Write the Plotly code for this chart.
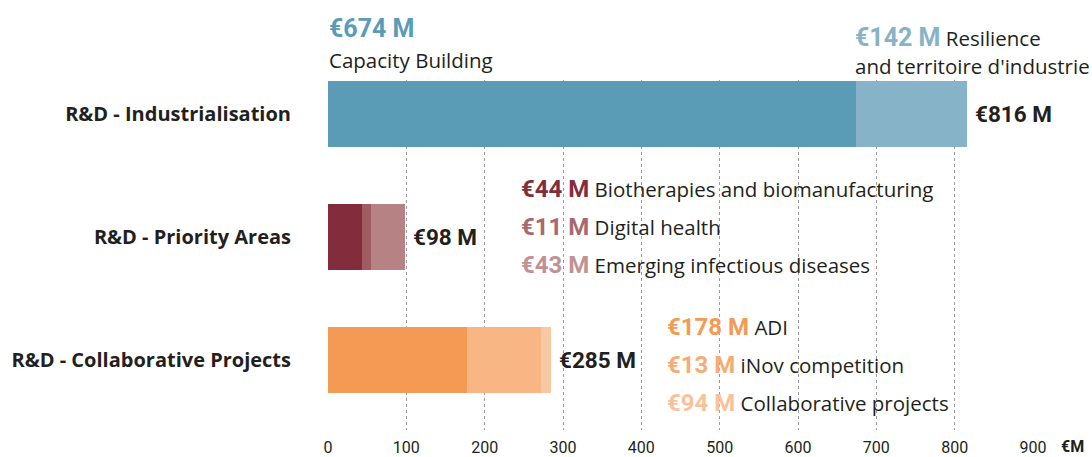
import plotly.graph_objects as go

# Funding breakdown (in € millions)
categories = ["R&D - Industrialisation", "R&D - Priority Areas", "R&D - Collaborative Projects"]

indus_labels = ["Capacity Building", "Resilience and territoire d'industrie"]
indus_values = [674, 142]

priority_labels = ["Biotherapies and biomanufacturing", "Digital health", "Emerging infectious diseases"]
priority_values = [44, 11, 43]

collab_labels = ["ADI", "iNov competition", "Collaborative projects"]
collab_values = [178, 13, 94]

totals = [816, 98, 285]
x_ticks = [0, 100, 200, 300, 400, 500, 600, 700, 800, 900]

# Colours
indus_colors = ["#5a9bb5", "#86b3c7"]
priority_colors = ["#832d3c", "#9f5c63", "#b78283"]
priority_text_colors = ["#832d3c", "#a9686e", "#c19193"]
collab_colors = {"ADI": "#f49a55", "Collaborative projects": "#f7b683", "iNov competition": "#f8c8a2"}
collab_text_colors = ["#f49a55", "#f6ac73", "#f8c29a"]

DARK = "#231f20"
BOLD_FONT = "Roboto"
BODY_FONT = "Open Sans"
BODY_SIZE = 20.5

fig = go.Figure()

# Industrialisation row
for lab, val, col in zip(indus_labels, indus_values, indus_colors):
    fig.add_trace(go.Bar(y=[0], x=[val], orientation="h", name=lab,
                         marker=dict(color=col, line=dict(width=0)), width=0.537))

# Priority areas row
for lab, val, col in zip(priority_labels, priority_values, priority_colors):
    fig.add_trace(go.Bar(y=[1], x=[val], orientation="h", name=lab,
                         marker=dict(color=col, line=dict(width=0)), width=0.537))

# Collaborative projects row (larger segments first)
collab_order = sorted(range(len(collab_values)), key=lambda i: -collab_values[i])
for i in collab_order:
    fig.add_trace(go.Bar(y=[2], x=[collab_values[i]], orientation="h", name=collab_labels[i],
                         marker=dict(color=collab_colors[collab_labels[i]], line=dict(width=0)),
                         width=0.537))

L, R, T, B = 328, 59, 80, 27
W, H = 1092, 457
PW, PH = W - L - R, H - T - B


def px(x):
    return (x - L) / PW


def py(y):
    return (H - B - y) / PH


annotations = []

# Totals at the end of each bar
for i, tot in enumerate(totals):
    annotations.append(dict(x=tot, y=i, xref="x", yref="y", xanchor="left", yanchor="middle",
                            xshift=6, text=f"<b>€{tot} M</b>", showarrow=False,
                            font=dict(family=BOLD_FONT, size=22.5, color=DARK)))

# Industrialisation breakdown
annotations.append(dict(x=px(327), y=py(28), xref="paper", yref="paper", xanchor="left",
                        yanchor="middle", showarrow=False,
                        text=f"<b>€{indus_values[0]} M</b>",
                        font=dict(family=BOLD_FONT, size=25, color=indus_colors[0])))
annotations.append(dict(x=px(327), y=py(60), xref="paper", yref="paper", xanchor="left",
                        yanchor="middle", showarrow=False, text=indus_labels[0],
                        font=dict(family=BODY_FONT, size=BODY_SIZE, color=DARK)))
annotations.append(dict(x=px(853), y=py(37), xref="paper", yref="paper", xanchor="left",
                        yanchor="middle", showarrow=False,
                        text=(f"<span style='font-family:{BOLD_FONT};font-size:25px;color:{indus_colors[1]}'>"
                              f"<b>€{indus_values[1]} M</b></span> Resilience"),
                        font=dict(family=BODY_FONT, size=BODY_SIZE, color=DARK)))
annotations.append(dict(x=px(853), y=py(66), xref="paper", yref="paper", xanchor="left",
                        yanchor="middle", showarrow=False, text="and territoire d'industrie",
                        font=dict(family=BODY_FONT, size=BODY_SIZE, color=DARK)))


def legend_line(x, y, val, lab, col):
    return dict(x=px(x), y=py(y), xref="paper", yref="paper", xanchor="left", yanchor="middle",
                showarrow=False,
                text=(f"<span style='font-family:{BOLD_FONT};font-size:24px;color:{col}'>"
                      f"<b>€{val} M</b></span> {lab}"),
                font=dict(family=BODY_FONT, size=BODY_SIZE, color=DARK))


for k, (val, lab, col) in enumerate(zip(priority_values, priority_labels, priority_text_colors)):
    annotations.append(legend_line(519, 189 + 38 * k, val, lab, col))

for k, (val, lab, col) in enumerate(zip(collab_values, collab_labels, collab_text_colors)):
    annotations.append(legend_line(665, 327 + 38 * k, val, lab, col))

# Unit label on the x axis
annotations.append(dict(x=px(1059), y=py(446), xref="paper", yref="paper", xanchor="left",
                        yanchor="middle", showarrow=False, text="<b>€M</b>",
                        font=dict(family=BOLD_FONT, size=16, color=DARK)))

fig.update_layout(
    template="none",
    barmode="stack",
    width=W, height=H,
    margin=dict(l=L, r=R, t=T, b=B, pad=0),
    paper_bgcolor="white", plot_bgcolor="white",
    showlegend=False,
    bargap=0,
    annotations=annotations,
    xaxis=dict(range=[0, 900], tickvals=x_ticks, ticktext=[str(v) for v in x_ticks],
               automargin=False,
               showgrid=True, gridcolor="#9a9a9a", gridwidth=1, griddash="3px,3px",
               zeroline=False, showline=False, ticks="", ticklabelstandoff=6,
               tickfont=dict(family="Roboto", size=16, color=DARK), layer="below traces"),
    yaxis=dict(range=[2.569, -0.276], tickvals=[0, 1, 2], ticktext=[f"<b>{c}</b>" for c in categories],
               automargin=False,
               showgrid=False, zeroline=False, showline=False, ticks="",
               ticklabelstandoff=36,
               tickfont=dict(family=BODY_FONT, size=20, color=DARK)),
)

fig.write_html("out.html")
